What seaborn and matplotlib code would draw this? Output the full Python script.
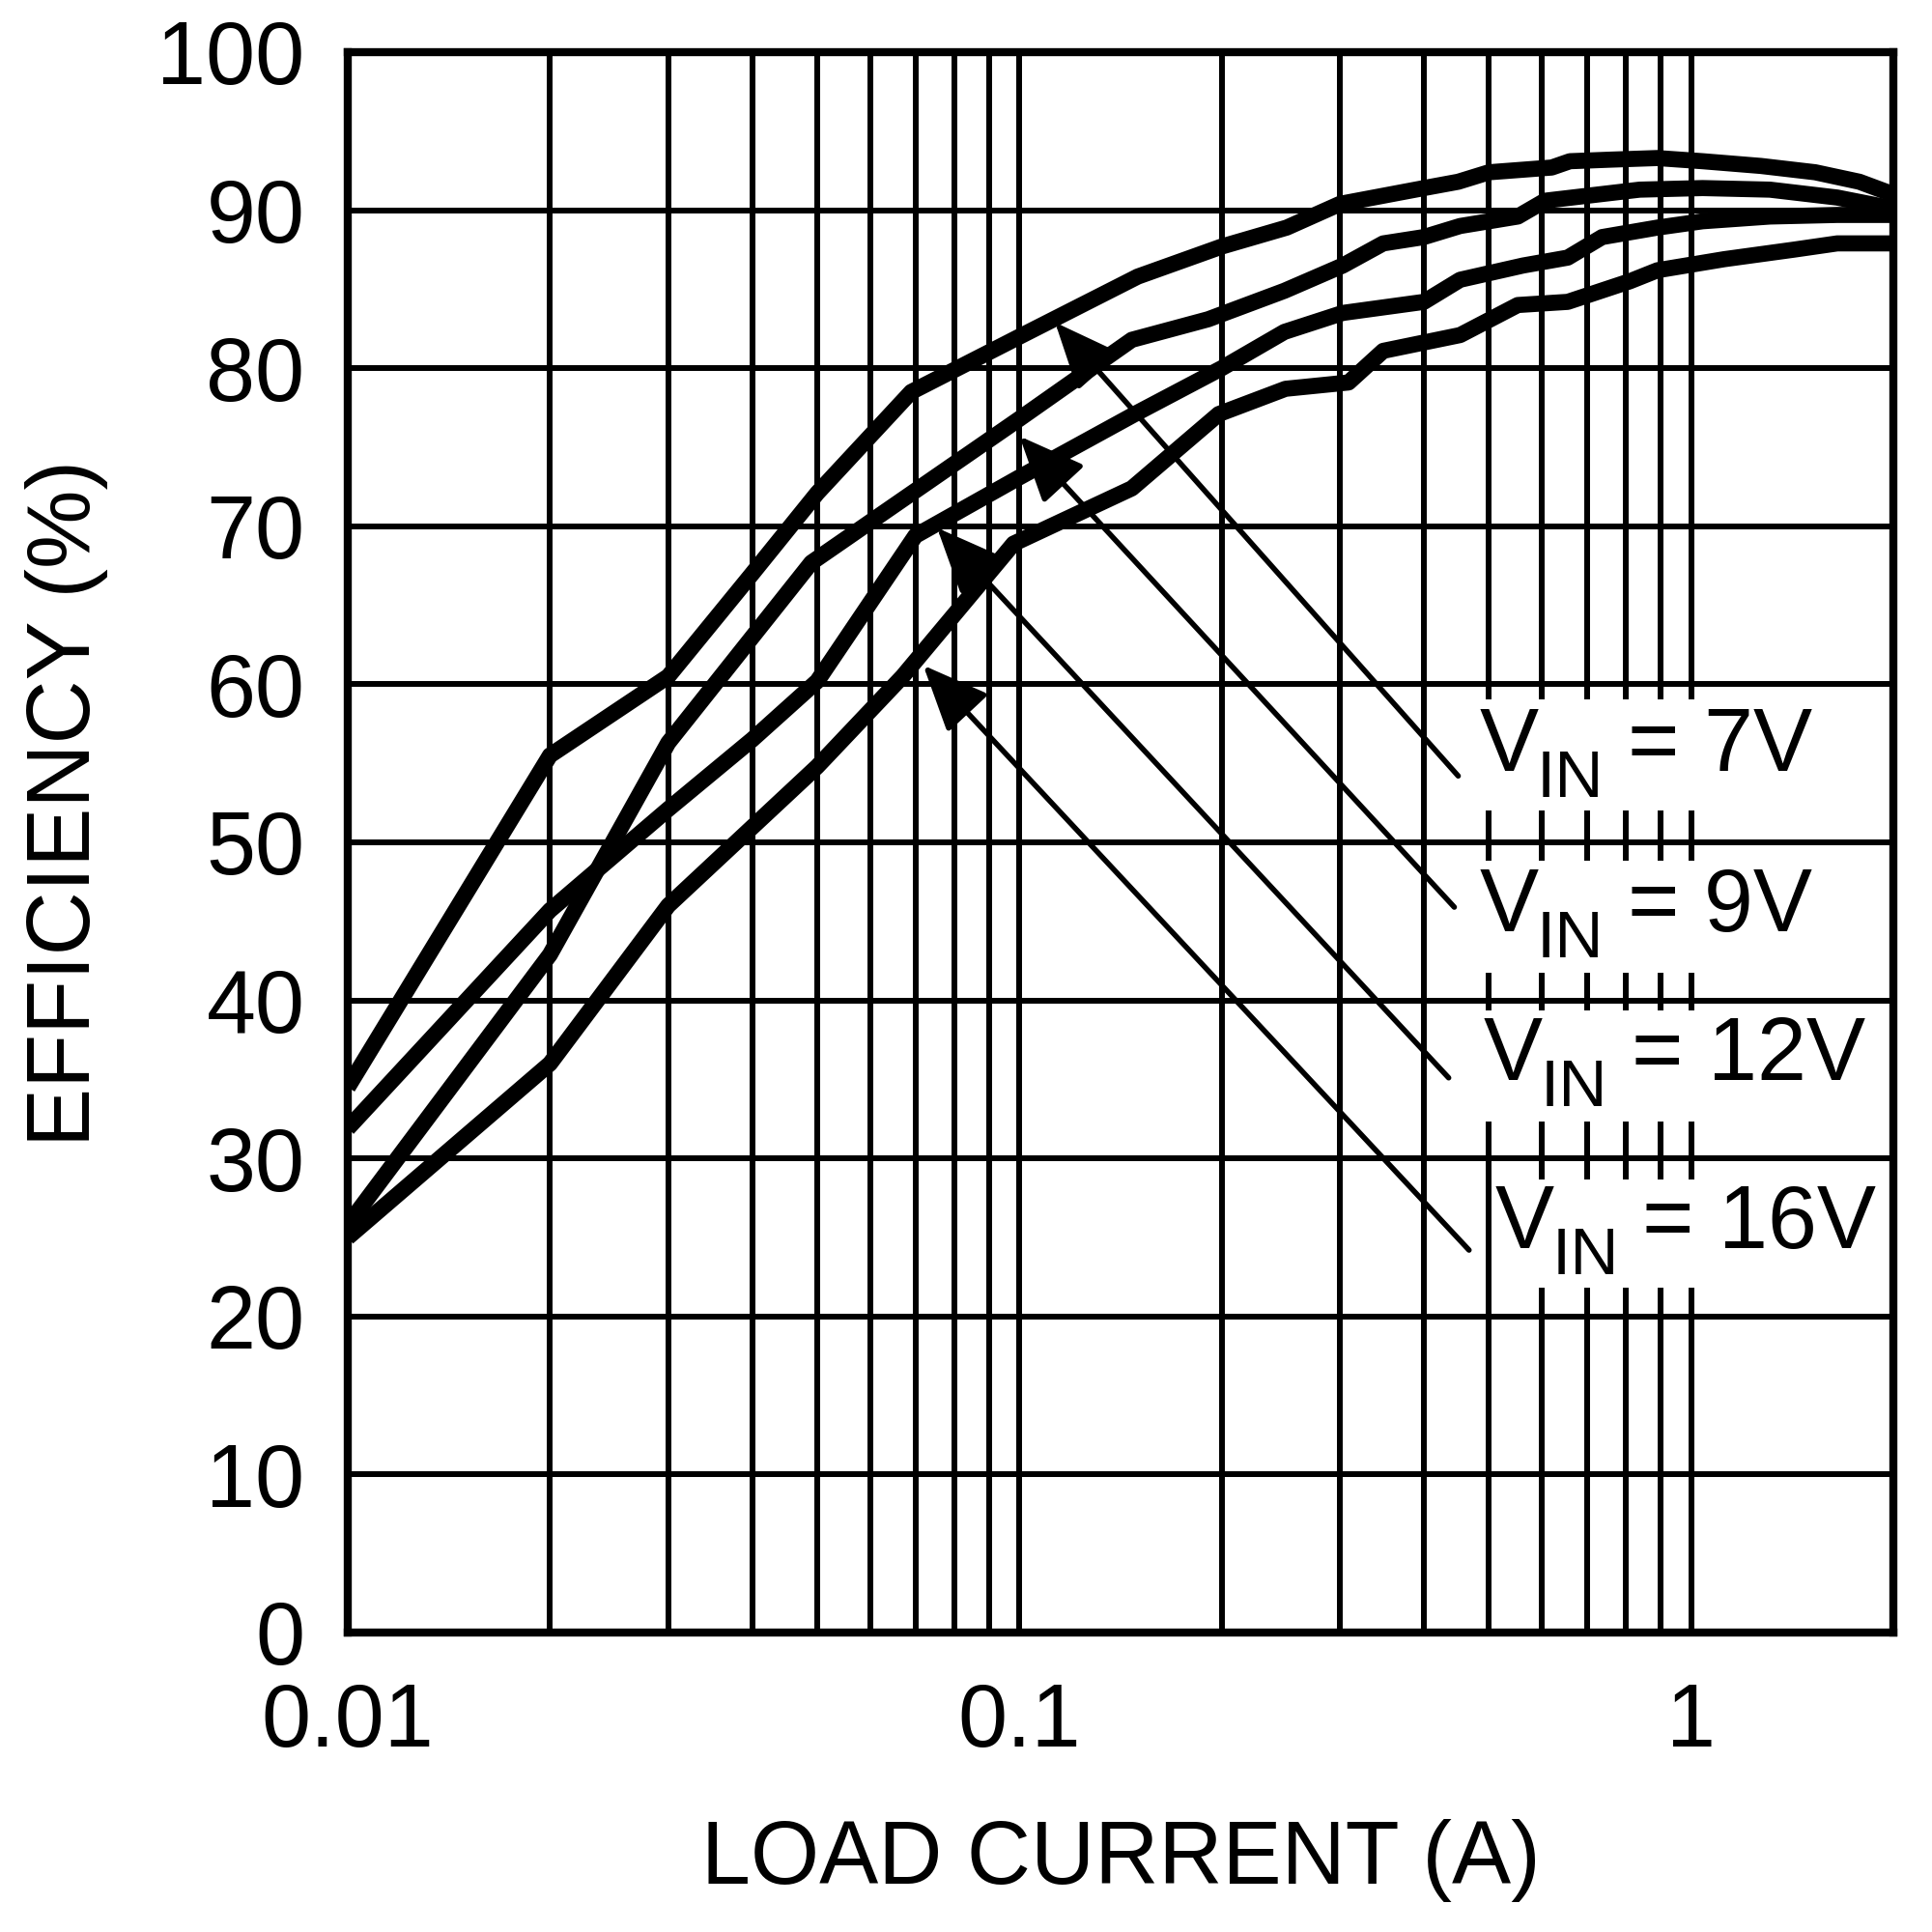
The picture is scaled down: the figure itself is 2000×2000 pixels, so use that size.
import matplotlib
matplotlib.use("Agg")
import matplotlib.pyplot as plt
from matplotlib.patches import Rectangle
from matplotlib.ticker import FixedLocator, NullFormatter
import seaborn as sns

# ---------------- data ----------------
current_7v = [0.01, 0.02, 0.03, 0.04, 0.05, 0.069, 0.1, 0.15, 0.2, 0.25, 0.3, 0.4, 0.45,
              0.5, 0.62, 0.66, 0.76, 0.89, 1.04, 1.27, 1.53, 1.78, 2.0]
eff_7v = [34.5, 55.5, 60.5, 67.0, 72.1, 78.5, 82.0, 85.8, 87.7, 88.9, 90.4, 91.4, 91.8,
          92.4, 92.7, 93.1, 93.2, 93.3, 93.1, 92.8, 92.4, 91.8, 91.0]

current_9v = [0.01, 0.02, 0.03, 0.049, 0.1, 0.147, 0.191, 0.248, 0.303, 0.348, 0.40, 0.453,
              0.552, 0.606, 0.729, 0.838, 1.04, 1.31, 1.65, 2.0]
eff_9v = [25.8, 42.9, 56.3, 67.7, 76.8, 81.8, 83.1, 84.9, 86.5, 87.9, 88.3, 89.0,
          89.6, 90.6, 91.0, 91.3, 91.4, 91.3, 90.8, 90.1]

current_12v = [0.01, 0.02, 0.03, 0.04, 0.05, 0.07, 0.1, 0.15, 0.2, 0.248, 0.303, 0.40, 0.453,
               0.562, 0.655, 0.737, 0.891, 1.04, 1.31, 1.65, 2.0]
eff_12v = [31.9, 45.7, 52.1, 56.5, 60.2, 69.4, 73.1, 77.2, 80.0, 82.3, 83.5, 84.2, 85.6,
           86.5, 87.0, 88.3, 88.9, 89.3, 89.6, 89.7, 89.7]

current_16v = [0.01, 0.02, 0.03, 0.05, 0.067, 0.098, 0.147, 0.198, 0.249, 0.309, 0.348, 0.453,
               0.552, 0.655, 0.81, 0.891, 1.12, 1.42, 1.65, 2.0]
eff_16v = [25.0, 36.0, 46.0, 54.8, 60.5, 68.9, 72.4, 77.1, 78.7, 79.1, 81.1, 82.1,
           84.0, 84.2, 85.5, 86.2, 86.9, 87.5, 87.9, 87.9]

vin_values = ["7V", "9V", "12V", "16V"]
x_major_ticks = [0.01, 0.1, 1]
x_major_labels = ["0.01", "0.1", "1"]
x_minor_ticks = [0.02, 0.03, 0.04, 0.05, 0.06, 0.07, 0.08, 0.09,
                 0.2, 0.3, 0.4, 0.5, 0.6, 0.7, 0.8, 0.9]
y_ticks = [0, 10, 20, 30, 40, 50, 60, 70, 80, 90, 100]

# arrow tip (on curve) and tail (near label), data coords
arrow_tips = [(0.113, 82.9), (0.100, 75.7), (0.0754, 69.9), (0.0719, 61.2)]
arrow_tails = [(0.45, 54.2), (0.444, 45.9), (0.4355, 35.1), (0.467, 24.2)]

# ---------------- style ----------------
sns.set_style("white")
plt.rcParams["font.family"] = ["Liberation Sans", "DejaVu Sans"]
plt.rcParams["text.color"] = "black"
plt.rcParams["axes.labelcolor"] = "black"
plt.rcParams["xtick.color"] = "black"
plt.rcParams["ytick.color"] = "black"

FS = 66
CURVE_LW = 12.0
GRID_LW = 4.3
fig = plt.figure(figsize=(20, 20), dpi=100)
ax = fig.add_axes([0.18, 0.155, 0.80, 0.818])
ax.set_xscale("log")
ax.set_axisbelow(True)

series = [(current_7v, eff_7v), (current_9v, eff_9v),
          (current_12v, eff_12v), (current_16v, eff_16v)]
for cur, eff in series:
    sns.lineplot(x=cur, y=eff, ax=ax, color="black", linewidth=CURVE_LW, sort=False,
                 estimator=None, zorder=3)
for ln in ax.get_lines():
    ln.set_linewidth(CURVE_LW)
    ln.set_solid_joinstyle("round")
    ln.set_solid_capstyle("butt")

ax.set_xlim(0.01, 2.0)
ax.set_ylim(0, 100)
ax.set_xticks(x_major_ticks)
ax.set_xticklabels(x_major_labels)
ax.xaxis.set_minor_locator(FixedLocator(x_minor_ticks))
ax.xaxis.set_minor_formatter(NullFormatter())
ax.set_yticks(y_ticks)
ax.set_yticklabels([str(v) for v in y_ticks])

ax.grid(True, which="both", axis="x", color="black", lw=GRID_LW)
ax.grid(True, which="major", axis="y", color="black", lw=GRID_LW)
ax.tick_params(axis="both", which="both", length=0, labelsize=FS, labelcolor="black")
ax.tick_params(axis="y", pad=32)
ax.tick_params(axis="x", pad=37)
for s in ax.spines.values():
    s.set_visible(True)
    s.set_color("black")
    s.set_linewidth(6.0)

ax.set_xlabel("LOAD CURRENT (A)", fontsize=FS, color="black")
ax.set_ylabel("EFFICIENCY (%)", fontsize=FS, color="black")
ax.xaxis.set_label_coords(0.5, -0.118)
ax.yaxis.set_label_coords(-0.155, 0.5245)

# label boxes (white, hiding gridlines)
boxes = [(0.728, 0.520, 0.272, 0.0705),
         (0.728, 0.4175, 0.272, 0.0709),
         (0.728, 0.3234, 0.272, 0.0702),
         (0.741, 0.2182, 0.259, 0.0685)]
for (bx, by, bw, bh) in boxes:
    ax.add_patch(Rectangle((bx, by), bw, bh, transform=ax.transAxes,
                           facecolor="white", edgecolor="none", zorder=1.5))

label_pos = [(0.7325, 0.5455), (0.7325, 0.4438), (0.735, 0.3496), (0.742, 0.243)]
for (lx, ly), v in zip(label_pos, vin_values):
    ax.annotate("V", xy=(lx, ly), xycoords="axes fraction", fontsize=FS, color="black",
                ha="left", va="baseline", zorder=4)
    ax.annotate("IN", xy=(lx, ly), xycoords="axes fraction", xytext=(59, -27),
                textcoords="offset pixels", fontsize=50, color="black",
                ha="left", va="baseline", zorder=4)
    ax.annotate("= " + v, xy=(lx, ly), xycoords="axes fraction", xytext=(153, 0),
                textcoords="offset pixels", fontsize=FS, color="black",
                ha="left", va="baseline", zorder=4)

for tip, tail in zip(arrow_tips, arrow_tails):
    ax.annotate("", xy=tip, xytext=tail, xycoords="data", textcoords="data",
                arrowprops=dict(arrowstyle="-|>,head_length=0.7,head_width=0.3",
                                mutation_scale=60, lw=4.0, color="black",
                                shrinkA=0, shrinkB=0), zorder=4)

fig.savefig("out.png", dpi=100, facecolor="white")
